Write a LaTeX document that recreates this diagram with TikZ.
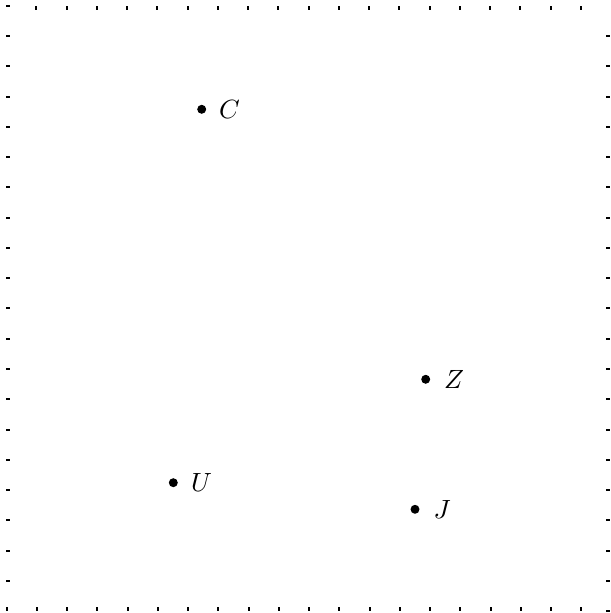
\documentclass[tikz,border=0pt]{standalone}
\begin{document}
\begin{tikzpicture}[x=0.3793pt,y=-0.3793pt,
  tickmark/.style={fill=black},
  pointdot/.style={circle,fill=black,draw=none,inner sep=0pt,minimum size=3.4pt},
  lbl/.style={anchor=west,inner sep=0pt}]
\useasboundingbox (0,0) rectangle (610,613);
% border ticks
\foreach \k in {1,...,19} \fill[tickmark] ({6+30.25*\k-1},6) rectangle ({6+30.25*\k+1},10);
\foreach \k in {0,...,19} \fill[tickmark] (6,{6+30.25*\k-1}) rectangle (10,{6+30.25*\k+1});
\fill[tickmark] (6,607) rectangle (7.5,611);
\foreach \k in {1,...,19} \fill[tickmark] ({6.5+30.25*\k-1},607) rectangle ({6.5+30.25*\k+1},611);
\foreach \k in {1,...,20} \fill[tickmark] (606,{6+30.25*\k-1}) rectangle (609.5,{6+30.25*\k+1});
% points
\node[pointdot] (C) at (201.7,109.3) {};
\node[lbl] (Cl) at (218.5,109.3) {$C$};
\node[pointdot] (Z) at (425.7,379.3) {};
\node[lbl] (Zl) at (443.5,379.3) {$Z$};
\node[pointdot] (U) at (173.3,482.7) {};
\node[lbl] (Ul) at (190.5,482.7) {$U$};
\node[pointdot] (J) at (415,509.3) {};
\node[lbl] (Jl) at (433,509.3) {$J$};
\end{tikzpicture}
\end{document}
